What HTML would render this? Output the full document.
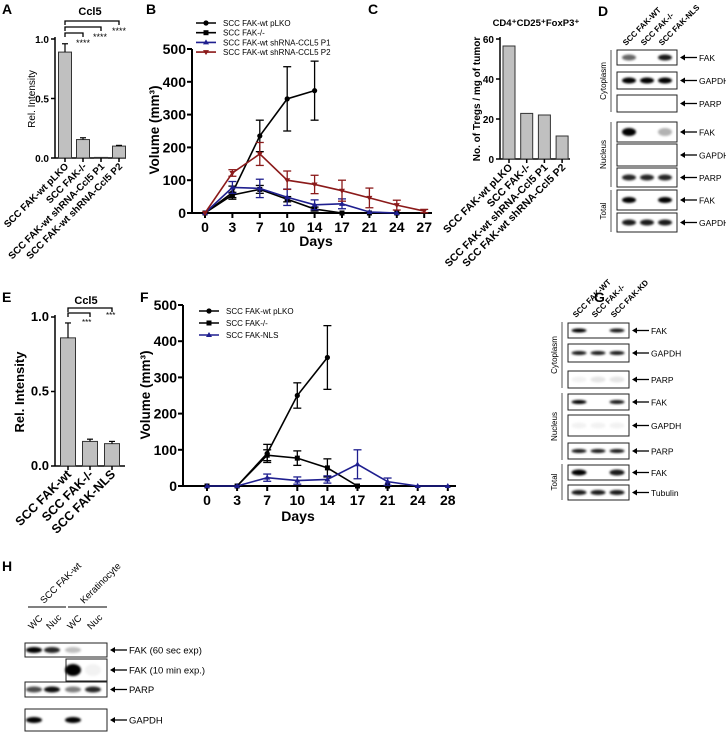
<!DOCTYPE html>
<html><head><meta charset="utf-8"><style>
body{margin:0;background:#fff}
svg{display:block;font-family:"Liberation Sans",Arial,sans-serif}
</style></head><body>
<svg id="fig" width="726" height="734" viewBox="0 0 726 734" xmlns="http://www.w3.org/2000/svg">
<defs><filter id="blur" x="-20%" y="-50%" width="140%" height="200%"><feGaussianBlur stdDeviation="1.1"/></filter></defs>
<g font-weight="bold" font-size="14">
<text x="2" y="14">A</text>
<text x="146" y="14">B</text>
<text x="368" y="14">C</text>
<text x="598" y="16">D</text>
<text x="2" y="302">E</text>
<text x="140" y="302">F</text>
<text x="594" y="302">G</text>
<text x="2" y="571">H</text>
</g>
<g id="root"></g>
</svg>
<script>
// ---------- data ----------
const aCats = ["SCC FAK-wt pLKO","SCC FAK-/-","SCC FAK-wt shRNA-Ccl5 P1","SCC FAK-wt shRNA-Ccl5 P2"];
const aVals = [0.89,0.155,0.005,0.10];
const aErr = [0.07,0.015,0,0.006];
const aTicks = [0,0.5,1.0];
const aTickLabels = ["0.0","0.5","1.0"];

const bDays = ["0","3","7","10","14","17","21","24","27"];
const bNames = ["SCC FAK-wt pLKO","SCC FAK-/-","SCC FAK-wt shRNA-CCL5 P1","SCC FAK-wt shRNA-CCL5 P2"];
const bPLKO = [0,62,235,348,373];
const bPLKOErr = [0,20,48,98,90];
const bKO = [0,55,72,42,12,0,0,0];
const bKOErr = [0,8,12,8,6,0,0,0];
const bP1 = [0,78,75,48,25,28,3,0];
const bP1Err = [0,18,28,25,15,15,0,0];
const bP2 = [0,122,180,100,87,68,46,24,6];
const bP2Err = [0,10,35,28,28,32,30,15,5];
const bTicks = [0,100,200,300,400,500];

const cCats = ["SCC FAK-wt pLKO","SCC FAK-/-","SCC FAK-wt shRNA-Ccl5 P1","SCC FAK-wt shRNA-Ccl5 P2"];
const cVals = [56.5,22.8,22,11.5];
const cTicks = [0,20,40,60];

const eCats = ["SCC FAK-wt","SCC FAK-/-","SCC FAK-NLS"];
const eVals = [0.86,0.165,0.15];
const eErr = [0.1,0.015,0.015];

const fDays = ["0","3","7","10","14","17","21","24","28"];
const fNames = ["SCC FAK-wt pLKO","SCC FAK-/-","SCC FAK-NLS"];
const fPLKO = [0,0,90,250,355];
const fPLKOErr = [0,0,25,35,88];
const fKO = [0,0,85,77,50,0,0];
const fKOErr = [0,0,15,20,25,0,0];
const fNLS = [0,0,23,15,18,60,12,0,0];
const fNLSErr = [0,0,10,10,10,40,10,0,0];

// ---------- helpers ----------
const NS="http://www.w3.org/2000/svg";
const root=document.getElementById('root');
function mk(tag,attrs,parent,txt){const e=document.createElementNS(NS,tag);for(const k in attrs)e.setAttribute(k,attrs[k]);if(txt!==undefined)e.textContent=txt;(parent||root).appendChild(e);return e;}
function line(x1,y1,x2,y2,c,w,p){return mk('line',{x1,y1,x2,y2,stroke:c||'#000','stroke-width':w||1.5},p);}

function barChart(g,o){
  const ys=v=>o.y0-(v-o.vmin)/(o.vmax-o.vmin)*(o.y0-o.y1);
  line(o.ax,o.y1-2,o.ax,o.y0,'#000',1.5,g);
  line(o.ax,o.y0,o.axEnd,o.y0,'#000',1.5,g);
  o.ticks.forEach((t,i)=>{const y=ys(t);line(o.ax-4,y,o.ax,y,'#000',1.5,g);
    const tl=mk('text',{x:o.ax-6,y:y+4,'text-anchor':'end','font-size':o.tfs,'font-weight':'bold'},g,o.tlabels[i]);
    });
  o.vals.forEach((v,i)=>{const cx=o.x0+i*o.dx;
    const r=mk('rect',{x:cx-o.bw/2,y:ys(v),width:o.bw,height:o.y0-ys(v),fill:'#c0c0c0',stroke:'#333','stroke-width':1},g);
    
    if(o.err&&o.err[i]>0){const yt=ys(v+o.err[i]);line(cx,ys(v),cx,yt,'#000',1.2,g);line(cx-3,yt,cx+3,yt,'#000',1.2,g);}
    line(cx,o.y0,cx,o.y0+4,'#000',1.5,g);
    const lx=cx+4,ly=o.y0+9;
    const t=mk('text',{x:lx,y:ly,'text-anchor':'end','font-size':o.lfs,'font-weight':'bold',transform:`rotate(-45 ${lx} ${ly})`},g,o.cats[i]);
    
  });
  return ys;
}

function lineChart(g,o){
  const xs=i=>o.x0+i*o.dx;
  const ys=v=>o.y0-v/o.vmax*(o.y0-o.y1);
  line(o.ax,o.y1,o.ax,o.y0,'#000',2,g);
  line(o.ax,o.y0,o.axEnd,o.y0,'#000',2,g);
  o.ticks.forEach(t=>{const y=ys(t);line(o.ax-5,y,o.ax,y,'#000',2,g);
    const tl=mk('text',{x:o.ax-6,y:y+5,'text-anchor':'end','font-size':14,'font-weight':'bold'},g,String(t));
    });
  o.days.forEach((d,i)=>{const x=xs(i);line(x,o.y0,x,o.y0+5,'#000',2,g);
    const tl=mk('text',{x:x,y:o.y0+19,'text-anchor':'middle','font-size':14,'font-weight':'bold'},g,d);
    });
  o.series.forEach((s,si)=>{
    const sg=mk('g',{},g);
    const pts=s.v.map((v,i)=>xs(i)+','+ys(v)).join(' ');
    mk('polyline',{points:pts,fill:'none',stroke:s.c,'stroke-width':1.6},sg);
    s.v.forEach((v,i)=>{const x=xs(i),y=ys(v),e=s.e[i];
      if(e>0){line(x,ys(v-e),x,ys(v+e),s.c,1.3,sg);line(x-4,ys(v+e),x+4,ys(v+e),s.c,1.3,sg);line(x-4,ys(v-e),x+4,ys(v-e),s.c,1.3,sg);}
      marker(sg,s.m,x,y,s.c);});
  });
  o.series.forEach((s,si)=>{const ly=o.legY+si*o.legDy;
    line(o.legX,ly,o.legX+20,ly,s.c,1.6,g);marker(g,s.m,o.legX+10,ly,s.c);
    const t=mk('text',{x:o.legX+27,y:ly+3,'font-size':8},g,s.n);
    });
}
function marker(g,m,x,y,c){
  if(m==='o')mk('circle',{cx:x,cy:y,r:2.6,fill:c},g);
  else if(m==='s')mk('rect',{x:x-2.5,y:y-2.5,width:5,height:5,fill:c},g);
  else if(m==='^')mk('polygon',{points:`${x},${y-3} ${x-3},${y+2} ${x+3},${y+2}`,fill:c},g);
  else mk('polygon',{points:`${x},${y+3} ${x-3},${y-2} ${x+3},${y-2}`,fill:c},g);
}
function rotText(g,x,y,txt,fs,name,bold){const t=mk('text',{x,y,'text-anchor':'middle','font-size':fs,'font-weight':bold?'bold':'normal',transform:`rotate(-90 ${x} ${y})`},g,txt);return t;}

// ---------- Panel A ----------
const gA=mk('g',{});
barChart(gA,{ax:55,axEnd:126,y0:158,y1:39,vmin:0,vmax:1,x0:65,dx:18,bw:13,vals:aVals,err:aErr,cats:aCats,ticks:aTicks,tlabels:aTickLabels,tfs:10,lfs:9.8});
mk('text',{x:90,y:15,'text-anchor':'middle','font-size':11,'font-weight':'bold'},gA,'Ccl5');
rotText(gA,35,99,'Rel. Intensity',10,'y-axis-title');
[[21,119,'****',124],[27,101,'****',105],[33,83,'****',88]].forEach(b=>{
  mk('path',{d:`M65,${b[0]+4} V${b[0]} H${b[1]} V${b[0]+4}`,fill:'none',stroke:'#000','stroke-width':1.3},gA);
  mk('text',{x:b[3]-12,y:b[0]+13,'font-size':9},gA,b[2]);});

// ---------- Panel B ----------
const gB=mk('g',{});
lineChart(gB,{ax:192,axEnd:432,y0:213,y1:49,vmax:500,x0:205,dx:27.4,days:bDays,ticks:bTicks,legX:196,legY:23,legDy:9.7,
  series:[{n:bNames[0],v:bPLKO,e:bPLKOErr,c:'#000',m:'o'},{n:bNames[1],v:bKO,e:bKOErr,c:'#000',m:'s'},{n:bNames[2],v:bP1,e:bP1Err,c:'#1f1f8f',m:'^'},{n:bNames[3],v:bP2,e:bP2Err,c:'#8b1a1a',m:'v'}]});
rotText(gB,159,130,'Volume (mm³)',13.5,'y-axis-title',true);
mk('text',{x:316,y:246,'text-anchor':'middle','font-size':14,'font-weight':'bold'},gB,'Days');

// ---------- Panel C ----------
const gC=mk('g',{});
barChart(gC,{ax:500,axEnd:570,y0:159,y1:39,vmin:0,vmax:60,x0:509,dx:17.7,bw:12,vals:cVals,err:null,cats:cCats,ticks:cTicks,tlabels:cTicks.map(String),tfs:10,lfs:10.5});
mk('text',{x:536,y:26,'text-anchor':'middle','font-size':9.5,'font-weight':'bold'},gC,'CD4⁺CD25⁺FoxP3⁺');
rotText(gC,480,99,'No. of Tregs / mg of tumor',10,'y-axis-title',true);

// ---------- Panel E ----------
const gE=mk('g',{});
barChart(gE,{ax:55,axEnd:125,y0:466,y1:317,vmin:0,vmax:1,x0:68,dx:22,bw:15,vals:eVals,err:eErr,cats:eCats,ticks:aTicks,tlabels:aTickLabels,tfs:13,lfs:12.5});
mk('text',{x:86,y:304,'text-anchor':'middle','font-size':11,'font-weight':'bold'},gE,'Ccl5');
rotText(gE,24,392,'Rel. Intensity',13,'y-axis-title',true);
mk('path',{d:'M68,312 V308 H112 V312',fill:'none',stroke:'#000','stroke-width':1.3},gE);
mk('path',{d:'M68,317 V313 H90 V317',fill:'none',stroke:'#000','stroke-width':1.3},gE);
mk('text',{x:82,y:325,'font-size':8},gE,'***');mk('text',{x:106,y:318,'font-size':8},gE,'***');

// ---------- Panel F ----------
const gF=mk('g',{});
lineChart(gF,{ax:183,axEnd:456,y0:486,y1:305,vmax:500,x0:207,dx:30.1,days:fDays,ticks:bTicks,legX:199,legY:311,legDy:12,
  series:[{n:fNames[0],v:fPLKO,e:fPLKOErr,c:'#000',m:'o'},{n:fNames[1],v:fKO,e:fKOErr,c:'#000',m:'s'},{n:fNames[2],v:fNLS,e:fNLSErr,c:'#1f1f8f',m:'^'}]});
rotText(gF,150,395,'Volume (mm³)',13.5,'y-axis-title',true);
mk('text',{x:298,y:521,'text-anchor':'middle','font-size':14,'font-weight':'bold'},gF,'Days');

// ---------- Blots ----------
function blot(g,o){
  o.rows.forEach((r,ri)=>{
    const rg=mk('g',{},g);
    const bx=r.bx!==undefined?r.bx:o.x1;
    mk('rect',{x:bx,y:r.y1,width:o.x2-bx,height:r.y2-r.y1,fill:'#fff',stroke:'#222','stroke-width':1},rg);
    const cy=(r.y1+r.y2)/2;
    r.i.forEach((v,li)=>{if(v>0){mk('ellipse',{cx:o.lanes[li],cy:cy,rx:o.bw/2,ry:r.h||3,fill:'#000','fill-opacity':v,filter:'url(#blur)'},rg);}});
    const ay=cy;
    line(o.x2+5,ay,o.x2+20,ay,'#000',1.3,rg);
    mk('polygon',{points:`${o.x2+3},${ay} ${o.x2+8},${ay-3} ${o.x2+8},${ay+3}`,fill:'#000'},rg);
    const t=mk('text',{x:o.x2+22,y:ay+3.5,'font-size':o.fs},rg,r.label);
    
  });
  o.groups.forEach(gr=>{line(o.x1-6,gr[0],o.x1-6,gr[1],'#555',1,g);rotText(g,o.x1-11,(gr[0]+gr[1])/2,gr[2],8,'fraction-label');});
  o.heads.forEach((h,i)=>{const x=o.lanes[i]-3,y=o.headY;
    const t=mk('text',{x,y,'font-size':8,'font-weight':'bold',transform:`rotate(-45 ${x} ${y})`},g,h);
    });
}
const gD=mk('g',{});
blot(gD,{x1:617,x2:677,lanes:[629,647,665],bw:14,fs:8.5,headY:46,heads:['SCC FAK-WT','SCC FAK-/-','SCC FAK-NLS'],
  groups:[[50,112,'Cytoplasm'],[122,187,'Nucleus'],[190,232,'Total']],
  rows:[{label:'FAK',y1:50,y2:65,i:[0.6,0,0.9]},{label:'GAPDH',y1:72,y2:89,i:[1,1,1]},{label:'PARP',y1:95,y2:112,i:[0,0,0]},
  {label:'FAK',y1:122,y2:142,i:[1,0,0.3],h:4},{label:'GAPDH',y1:144,y2:166,i:[0,0,0]},{label:'PARP',y1:168,y2:187,i:[0.85,0.85,0.85]},
  {label:'FAK',y1:190,y2:210,i:[1,0,1]},{label:'GAPDH',y1:213,y2:232,i:[0.9,0.9,0.9]}]});
const gG=mk('g',{});
blot(gG,{x1:568,x2:629,lanes:[579,598,617],bw:15,fs:8.5,headY:318,heads:['SCC FAK-WT','SCC FAK-/-','SCC FAK-KD'],
  groups:[[322,388,'Cytoplasm'],[393,460,'Nucleus'],[464,500,'Total']],
  rows:[{label:'FAK',y1:323,y2:338,i:[1,0,0.9],h:2},{label:'GAPDH',y1:344,y2:362,i:[0.9,0.9,0.9],h:2},{label:'PARP',y1:371,y2:388,i:[0.05,0.1,0.1]},
  {label:'FAK',y1:394,y2:410,i:[1,0,0.9],h:2},{label:'GAPDH',y1:415,y2:436,i:[0.05,0.05,0.05]},{label:'PARP',y1:443,y2:459,i:[0.9,0.9,0.9],h:2},
  {label:'FAK',y1:465,y2:480,i:[1,0,0.9]},{label:'Tubulin',y1:485,y2:500,i:[0.9,0.9,0.9],h:2.5}]});
const gH=mk('g',{});
blot(gH,{x1:25,x2:107,lanes:[34,52,73,93],bw:16,fs:9.5,headY:-100,heads:[],groups:[],
  rows:[{label:'FAK (60 sec exp)',y1:643,y2:657,i:[1,0.85,0.25,0]},{label:'FAK (10 min exp.)',y1:659,y2:681,bx:66,i:[0,0,1,0.05],h:6},
  {label:'PARP',y1:682,y2:697,i:[0.7,0.95,0.5,0.85]},{label:'GAPDH',y1:709,y2:731,i:[1,0,1,0]}]});
line(28,607,66,607,'#000',1,gH);line(68,607,107,607,'#000',1,gH);
[['SCC FAK-wt',44,604],['Keratinocyte',84,604]].forEach(h=>{const t=mk('text',{x:h[1],y:h[2],'font-size':9.5,transform:`rotate(-45 ${h[1]} ${h[2]})`},gH,h[0]);});
['WC','Nuc','WC','Nuc'].forEach((w,i)=>{const x=[32,50,71,91][i],y=630;const t=mk('text',{x,y,'font-size':9.5,transform:`rotate(-45 ${x} ${y})`},gH,w);});
</script>
</body></html>
